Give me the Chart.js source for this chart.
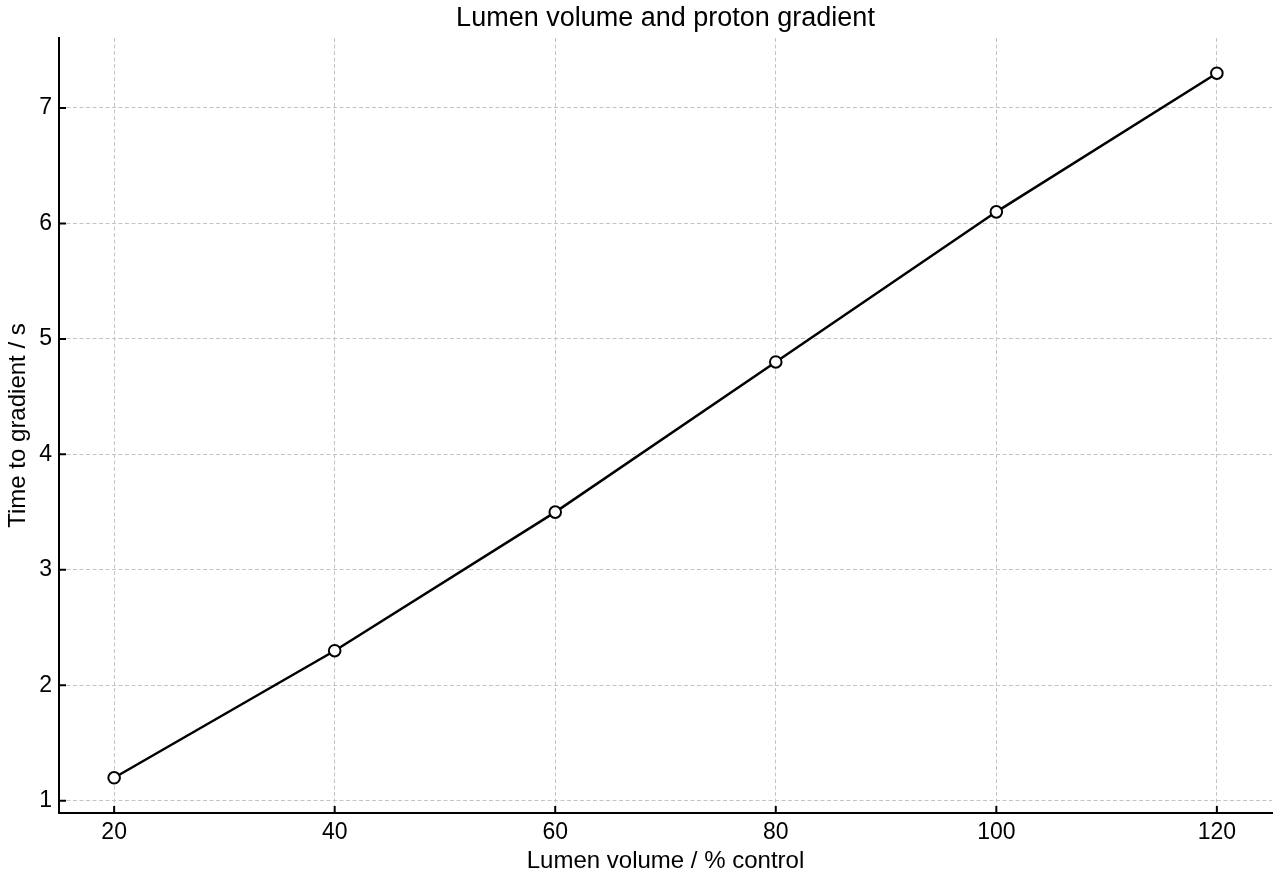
<!DOCTYPE html>
<html>
<head>
<meta charset="utf-8">
<script src="https://cdn.jsdelivr.net/npm/chart.js@4/dist/chart.umd.min.js"></script>
<style>
html,body{margin:0;padding:0;background:#fff;}
canvas{display:block;}
</style>
</head>
<body>
<canvas id="c" width="1280" height="880"></canvas>
<script>
const lumenVolume = [20, 40, 60, 80, 100, 120];
const timeToGradient = [1.2, 2.3, 3.5, 4.8, 6.1, 7.3];
const xTickValues = [20, 40, 60, 80, 100, 120];
const yTickValues = [1, 2, 3, 4, 5, 6, 7];
const chartTitle = 'Lumen volume and proton gradient';
const xTitle = 'Lumen volume / % control';
const yTitle = 'Time to gradient / s';

const FONT = '"Liberation Sans", Arial, Helvetica, sans-serif';

const titlePlugin = {
  id: 'areaTitle',
  afterDraw(chart) {
    const ctx = chart.ctx, a = chart.chartArea;
    ctx.save();
    ctx.font = '27px ' + FONT;
    ctx.fillStyle = '#000';
    ctx.textAlign = 'center';
    ctx.textBaseline = 'middle';
    ctx.fillText(chartTitle, (a.left + a.right) / 2, 19);
    ctx.restore();
  }
};

const innerTicks = {
  id: 'innerTicks',
  afterDatasetsDraw(chart) {
    const ctx = chart.ctx, a = chart.chartArea;
    const xs = chart.scales.x, ys = chart.scales.y;
    ctx.save();
    ctx.strokeStyle = '#000';
    ctx.lineWidth = 2;
    ctx.beginPath();
    xTickValues.forEach(v => {
      const p = xs.getPixelForValue(v);
      ctx.moveTo(p, a.bottom);
      ctx.lineTo(p, a.bottom - 7);
    });
    yTickValues.forEach(v => {
      const p = ys.getPixelForValue(v);
      ctx.moveTo(a.left, p);
      ctx.lineTo(a.left + 7, p);
    });
    ctx.stroke();
    ctx.restore();
  }
};

new Chart(document.getElementById('c'), {
  type: 'line',
  data: {
    datasets: [{
      data: lumenVolume.map((x, i) => ({x: x, y: timeToGradient[i]})),
      borderColor: '#000',
      borderWidth: 2.5,
      pointRadius: 5.8,
      pointHoverRadius: 5.8,
      pointBackgroundColor: '#fff',
      pointBorderColor: '#000',
      pointBorderWidth: 2,
      tension: 0,
      clip: false
    }]
  },
  options: {
    responsive: false,
    animation: false,
    events: [],
    layout: { padding: { top: 38, right: 8, left: 0, bottom: 0 } },
    plugins: { legend: { display: false }, tooltip: { enabled: false }, title: { display: false } },
    scales: {
      x: {
        type: 'linear',
        min: 15, max: 125,
        afterBuildTicks(s) { s.ticks = xTickValues.map(v => ({value: v})); },
        afterFit(s) { s.height = 67; },
        grid: { color: '#c4c4c4', lineWidth: 1, drawTicks: false },
        border: { display: true, color: '#000', width: 2, dash: [4, 2.5] },
        ticks: { color: '#000', font: { family: FONT, size: 23 }, padding: 6, maxRotation: 0, autoSkip: false },
        title: { display: true, text: xTitle, color: '#000', font: { family: FONT, size: 24 }, padding: { top: 3, bottom: 4 } }
      },
      y: {
        type: 'linear',
        min: 0.895, max: 7.605,
        afterBuildTicks(s) { s.ticks = yTickValues.map(v => ({value: v})); },
        afterFit(s) { s.width = 59; },
        grid: { color: '#c4c4c4', lineWidth: 1, drawTicks: false },
        border: { display: true, color: '#000', width: 2, dash: [4, 2.5] },
        ticks: { color: '#000', font: { family: FONT, size: 23 }, padding: 7, autoSkip: false },
        title: { display: true, text: yTitle, color: '#000', font: { family: FONT, size: 24 }, padding: { top: 4, bottom: 2 } }
      }
    }
  },
  plugins: [titlePlugin, innerTicks]
});
</script>
</body>
</html>
